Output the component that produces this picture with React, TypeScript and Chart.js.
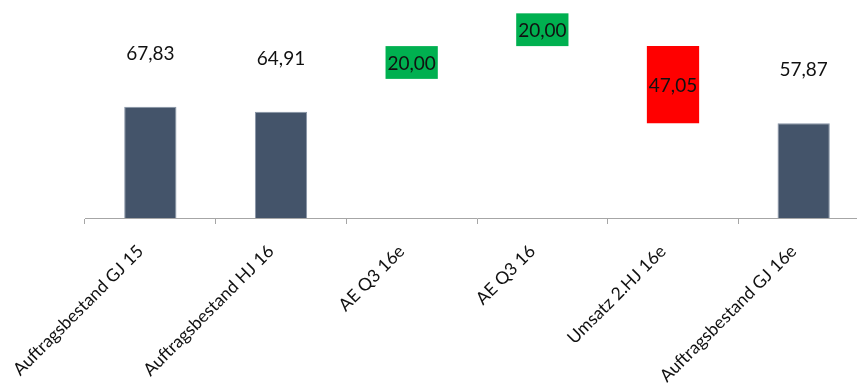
import React, { useEffect, useRef } from "react";
import { Chart, registerables } from "chart.js";

Chart.register(...registerables);

const categories = [
  "Auftragsbestand GJ 15",
  "Auftragsbestand HJ 16",
  "AE Q3 16e",
  "AE Q3 16",
  "Umsatz 2.HJ 16e",
  "Auftragsbestand GJ 16e",
];
const changes = [67.83, 64.91, 20.0, 20.0, -47.05, 57.87];
const kinds = ["total", "total", "increase", "increase", "decrease", "total"];

const FONT = "Lato, 'Open Sans', sans-serif";
const TOTAL_COLOR = "#44546a";
const UP_COLOR = "#00b050";
const DOWN_COLOR = "#ff0000";

function fmt(v: number) {
  return Math.abs(v).toFixed(2).replace(".", ",");
}

function buildRanges() {
  let running = 0;
  return changes.map((v, i) => {
    const k = kinds[i];
    if (k === "total") {
      running = v;
      return [0, v];
    }
    const start = running;
    running += v;
    return v >= 0 ? [start, running] : [running, start];
  });
}

const labelPlugin = {
  id: "wfLabels",
  afterDatasetsDraw(chart: any) {
    const ctx = chart.ctx;
    const meta = chart.getDatasetMeta(0);
    ctx.save();
    ctx.font = `19px ${FONT}`;
    ctx.textAlign = "center";
    ctx.textBaseline = "middle";
    meta.data.forEach((el: any, i: number) => {
      const { x, y, base, width } = el.getProps(["x", "y", "base", "width"], true);
      const top = Math.min(y, base);
      const bottom = Math.max(y, base);
      const h = bottom - top;
      const k = kinds[i];
      const txt = fmt(changes[i]);
      if (k === "increase") {
        ctx.fillStyle = UP_COLOR;
        ctx.fillRect(x - width / 2, top - h, width, h);
        ctx.fillStyle = "#111";
        ctx.fillText(txt, x, top - h / 2 + 1);
      } else if (k === "decrease") {
        ctx.fillStyle = "#111";
        ctx.fillText(txt, x, top + h / 2 + 1);
      } else {
        ctx.fillStyle = "#111";
        ctx.fillText(txt, x, top - 53);
      }
    });
    ctx.restore();
  },
};

export default function App() {
  const ref = useRef<HTMLCanvasElement>(null);
  useEffect(() => {
    if (!ref.current) return;
    const ranges = buildRanges();
    const chart = new Chart(ref.current, {
      type: "bar",
      data: {
        labels: categories,
        datasets: [
          {
            data: ranges as any,
            backgroundColor: kinds.map((k) =>
              k === "total" ? TOTAL_COLOR : k === "decrease" ? DOWN_COLOR : "rgba(0,0,0,0)"
            ),
            borderColor: kinds.map((k) => (k === "total" ? "#8794a6" : "rgba(0,0,0,0)")),
            borderWidth: kinds.map((k) => (k === "total" ? 1 : 0)),
            barPercentage: 0.4,
            categoryPercentage: 1,
          },
        ],
      },
      options: {
        responsive: false,
        animation: false,
        layout: { padding: { left: 85, right: 1, top: 5, bottom: 0 } },
        plugins: { legend: { display: false }, tooltip: { enabled: false } },
        scales: {
          x: {
            afterFit: (s: any) => {
              s.height = 170;
            },
            grid: {
              offset: true,
              drawOnChartArea: false,
              drawTicks: true,
              tickLength: 6,
              color: "#a6a6a6",
            },
            border: { display: true, color: "#a6a6a6", width: 1 },
            ticks: {
              autoSkip: false,
              minRotation: 45,
              maxRotation: 45,
              color: "#111",
              font: { family: FONT, size: 17.5 },
              padding: 17,
              labelOffset: -10,
            },
          },
          y: {
            display: false,
            min: 0,
            max: 130,
          },
        },
      },
      plugins: [labelPlugin],
    });
    return () => chart.destroy();
  }, []);
  return (
    <div
      style={{
        position: "fixed",
        left: 0,
        top: 0,
        width: 857,
        height: 388,
        overflow: "hidden",
        background: "#fff",
      }}
    >
      <canvas ref={ref} width={870} height={388} style={{ display: "block" }} />
    </div>
  );
}
